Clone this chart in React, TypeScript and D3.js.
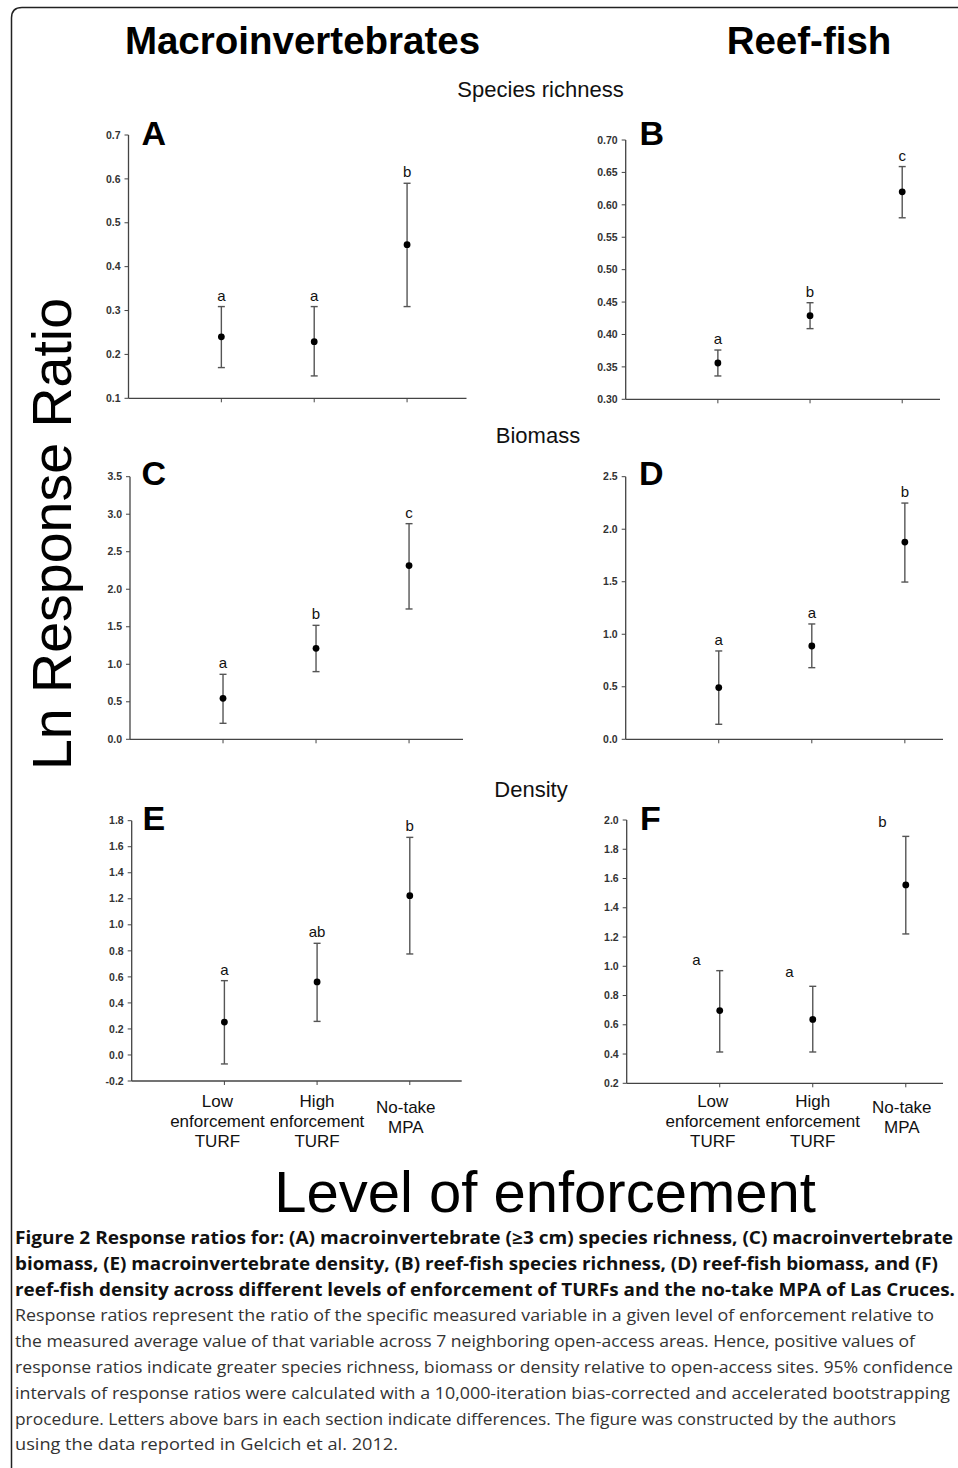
import React from "react";
import * as d3 from "d3";

// ---------- DATA ----------
const categoryLabels: string[][] = [
  ["Low", "enforcement", "TURF"],
  ["High", "enforcement", "TURF"],
  ["No-take", "MPA"],
];
const categoryPos = [1, 2, 3];

// A: macroinvertebrate species richness
const aMean = [0.24, 0.229, 0.45];
const aLow = [0.17, 0.151, 0.309];
const aHigh = [0.309, 0.309, 0.59];
const aLetters = ["a", "a", "b"];
const aTicks = [0.1, 0.2, 0.3, 0.4, 0.5, 0.6, 0.7];

// B: reef-fish species richness
const bMean = [0.356, 0.429, 0.62];
const bLow = [0.336, 0.409, 0.58];
const bHigh = [0.376, 0.449, 0.659];
const bLetters = ["a", "b", "c"];
const bTicks = [0.3, 0.35, 0.4, 0.45, 0.5, 0.55, 0.6, 0.65, 0.7];

// C: macroinvertebrate biomass
const cMean = [0.546, 1.213, 2.315];
const cLow = [0.213, 0.902, 1.737];
const cHigh = [0.866, 1.519, 2.874];
const cLetters = ["a", "b", "c"];
const cTicks = [0, 0.5, 1, 1.5, 2, 2.5, 3, 3.5];

// D: reef-fish biomass
const dMean = [0.492, 0.888, 1.878];
const dLow = [0.143, 0.682, 1.497];
const dHigh = [0.841, 1.098, 2.249];
const dLetters = ["a", "a", "b"];
const dTicks = [0, 0.5, 1, 1.5, 2, 2.5];

// E: macroinvertebrate density
const eMean = [0.253, 0.561, 1.224];
const eLow = [-0.069, 0.258, 0.776];
const eHigh = [0.571, 0.858, 1.672];
const eLetters = ["a", "ab", "b"];
const eTicks = [-0.2, 0, 0.2, 0.4, 0.6, 0.8, 1, 1.2, 1.4, 1.6, 1.8];

// F: reef-fish density
const fMean = [0.697, 0.637, 1.556];
const fLow = [0.414, 0.414, 1.221];
const fHigh = [0.97, 0.863, 1.888];
const fLetters = ["a", "a", "b"];
const fLetterValues = [1.009, 0.929, 1.954];
const fTicks = [0.2, 0.4, 0.6, 0.8, 1, 1.2, 1.4, 1.6, 1.8, 2];

const columnTitles = ["Macroinvertebrates", "Reef-fish"];
const rowTitles = ["Species richness", "Biomass", "Density"];
const yTitle = "Ln Response Ratio";
const xTitle = "Level of enforcement";

const captionBold = [
  "Figure 2 Response ratios for: (A) macroinvertebrate (\u22653 cm) species richness, (C) macroinvertebrate",
  "biomass, (E) macroinvertebrate density, (B) reef-fish species richness, (D) reef-fish biomass, and (F)",
  "reef-fish density across different levels of enforcement of TURFs and the no-take MPA of Las Cruces.",
];
const captionRegular = [
  "Response ratios represent the ratio of the specific measured variable in a given level of enforcement relative to",
  "the measured average value of that variable across 7 neighboring open-access areas. Hence, positive values of",
  "response ratios indicate greater species richness, biomass or density relative to open-access sites. 95% confidence",
  "intervals of response ratios were calculated with a 10,000-iteration bias-corrected and accelerated bootstrapping",
  "procedure. Letters above bars in each section indicate differences. The figure was constructed by the authors",
  "using the data reported in Gelcich et al. 2012.",
];

// ---------- LAYOUT ----------
const ARIAL = "'Liberation Sans', Arial, Helvetica, sans-serif";
const CAP = "'Open Sans', 'Noto Sans', sans-serif";

type Panel = {
  id: string;
  mean: number[];
  low: number[];
  high: number[];
  letters: string[];
  letterValues?: number[];
  letterShift?: number;
  ticks: number[];
  decimals: number;
  x0: number;
  x1: number;
  xMax: number;
  yBottom: number;
  yTop: number;
  labelX: number;
  labelY: number;
  showCats: boolean;
};

const panels: Panel[] = [
  { id: "A", mean: aMean, low: aLow, high: aHigh, letters: aLetters, ticks: aTicks, decimals: 1,
    x0: 128.5, x1: 466.5, xMax: 3.64, yBottom: 398.3, yTop: 135, labelX: 141.5, labelY: 145, showCats: false },
  { id: "B", mean: bMean, low: bLow, high: bHigh, letters: bLetters, ticks: bTicks, decimals: 2,
    x0: 625.7, x1: 940, xMax: 3.41, yBottom: 399.3, yTop: 140, labelX: 639.5, labelY: 145, showCats: false },
  { id: "C", mean: cMean, low: cLow, high: cHigh, letters: cLetters, ticks: cTicks, decimals: 1,
    x0: 130, x1: 463, xMax: 3.58, yBottom: 739.3, yTop: 476.7, labelX: 141.5, labelY: 485, showCats: false },
  { id: "D", mean: dMean, low: dLow, high: dHigh, letters: dLetters, ticks: dTicks, decimals: 1,
    x0: 625.7, x1: 943, xMax: 3.41, yBottom: 739.3, yTop: 476.7, labelX: 639, labelY: 485, showCats: false },
  { id: "E", mean: eMean, low: eLow, high: eHigh, letters: eLetters, ticks: eTicks, decimals: 1,
    x0: 131.7, x1: 461.7, xMax: 3.56, yBottom: 1081, yTop: 820.7, labelX: 142.5, labelY: 830, showCats: true },
  { id: "F", mean: fMean, low: fLow, high: fHigh, letters: fLetters, letterValues: fLetterValues,
    letterShift: -0.25, ticks: fTicks, decimals: 1,
    x0: 626.7, x1: 943, xMax: 3.4, yBottom: 1083.3, yTop: 820, labelX: 640, labelY: 830, showCats: true },
];

const catLabelDx = [-7, 0, -4];

const AXIS = "#444";
const BAR = "#555";

function PanelView({ p }: { p: Panel }) {
  const x = d3.scaleLinear().domain([0, p.xMax]).range([p.x0, p.x1]);
  const y = d3
    .scaleLinear()
    .domain([p.ticks[0], p.ticks[p.ticks.length - 1]])
    .range([p.yBottom, p.yTop]);
  const fmt = d3.format(`.${p.decimals}f`);
  const cap = 3.5;
  return (
    <g>
      {/* y axis */}
      <line x1={p.x0} x2={p.x0} y1={y.range()[0]} y2={y.range()[1]} stroke={AXIS} strokeWidth={1.3} />
      {p.ticks.map((t) => (
        <g key={t}>
          <line x1={p.x0 - 4} x2={p.x0} y1={y(t)} y2={y(t)} stroke={AXIS} strokeWidth={1} />
          <text x={p.x0 - 8} y={y(t)} dy="0.35em" textAnchor="end" fontFamily={ARIAL}
            fontSize={10.5} fontWeight="bold" fill="#333">
            {fmt(t).replace("\u2212", "-")}
          </text>
        </g>
      ))}
      {/* x axis */}
      <line x1={p.x0} x2={p.x1} y1={p.yBottom} y2={p.yBottom} stroke={AXIS} strokeWidth={1.3} />
      {categoryPos.map((c) => (
        <line key={c} x1={x(c)} x2={x(c)} y1={p.yBottom} y2={p.yBottom + 4} stroke={AXIS} strokeWidth={1} />
      ))}
      {/* error bars and points */}
      {categoryPos.map((c, i) => (
        <g key={"e" + c}>
          <line x1={x(c)} x2={x(c)} y1={y(p.low[i])} y2={y(p.high[i])} stroke={BAR} strokeWidth={1.4} />
          <line x1={x(c) - cap} x2={x(c) + cap} y1={y(p.low[i])} y2={y(p.low[i])} stroke={BAR} strokeWidth={1.4} />
          <line x1={x(c) - cap} x2={x(c) + cap} y1={y(p.high[i])} y2={y(p.high[i])} stroke={BAR} strokeWidth={1.4} />
          <circle cx={x(c)} cy={y(p.mean[i])} r={3.4} fill="#000" />
          <text
            x={x(c + (p.letterShift ?? 0))}
            y={p.letterValues ? y(p.letterValues[i]) : y(p.high[i]) - 6}
            textAnchor="middle" fontFamily={ARIAL} fontSize={15} fill="#111">
            {p.letters[i]}
          </text>
        </g>
      ))}
      {/* panel letter */}
      <text x={p.labelX} y={p.labelY} fontFamily={ARIAL} fontSize={34} fontWeight="bold" fill="#000">
        {p.id}
      </text>
      {/* category labels */}
      {p.showCats &&
        categoryPos.map((c, i) => {
          const lines = categoryLabels[i];
          const start = lines.length === 3 ? 1107 : 1113;
          return (
            <text key={"c" + c} textAnchor="middle" fontFamily={ARIAL} fontSize={17} fill="#111">
              {lines.map((l, k) => (
                <tspan key={k} x={x(c) + catLabelDx[i]} y={start + k * 20}>
                  {l}
                </tspan>
              ))}
            </text>
          );
        })}
    </g>
  );
}

const captionEnds = [953, 938, 955, 934, 915, 953, 950, 896, 398];

export default function App() {
  return (
    <svg width={958} height={1468} style={{ position: "absolute", left: 0, top: 0, display: "block", background: "#fff" }}>
      <rect x={0} y={0} width={958} height={1468} fill="#fff" />
      {/* frame */}
      <path d="M 11.5 1468 L 11.5 18 Q 11.5 7.5 22 7.5 L 958 7.5" fill="none" stroke="#222" strokeWidth={1.5} />

      {/* column titles */}
      <text x={302.5} y={54} textAnchor="middle" fontFamily={ARIAL} fontSize={38.5} fontWeight="bold" fill="#000">
        {columnTitles[0]}
      </text>
      <text x={809} y={54} textAnchor="middle" fontFamily={ARIAL} fontSize={38.5} fontWeight="bold" fill="#000">
        {columnTitles[1]}
      </text>

      {/* row titles */}
      <text x={540.5} y={97} textAnchor="middle" fontFamily={ARIAL} fontSize={22} fill="#111">{rowTitles[0]}</text>
      <text x={538} y={443} textAnchor="middle" fontFamily={ARIAL} fontSize={22} fill="#111">{rowTitles[1]}</text>
      <text x={531} y={797} textAnchor="middle" fontFamily={ARIAL} fontSize={22} fill="#111">{rowTitles[2]}</text>

      {/* y title */}
      <text transform="translate(71,534) rotate(-90)" textAnchor="middle" fontFamily={ARIAL} fontSize={55.5} fill="#000">
        {yTitle}
      </text>

      {panels.map((p) => (
        <PanelView key={p.id} p={p} />
      ))}

      {/* x title */}
      <text x={545} y={1212} textAnchor="middle" fontFamily={ARIAL} fontSize={58} fill="#000">
        {xTitle}
      </text>

      {/* caption */}
      {captionBold.map((l, i) => (
        <text key={"b" + i} x={15} y={1244 + i * 25.8} fontFamily={CAP} fontSize={17} fontWeight="bold" fill="#111"
          textLength={captionEnds[i] - 15} lengthAdjust="spacingAndGlyphs">
          {l}
        </text>
      ))}
      {captionRegular.map((l, i) => (
        <text key={"r" + i} x={15} y={1244 + (i + 3) * 25.8} fontFamily={CAP} fontSize={17} fill="#333"
          textLength={captionEnds[i + 3] - 15} lengthAdjust="spacingAndGlyphs">
          {l}
        </text>
      ))}
    </svg>
  );
}
